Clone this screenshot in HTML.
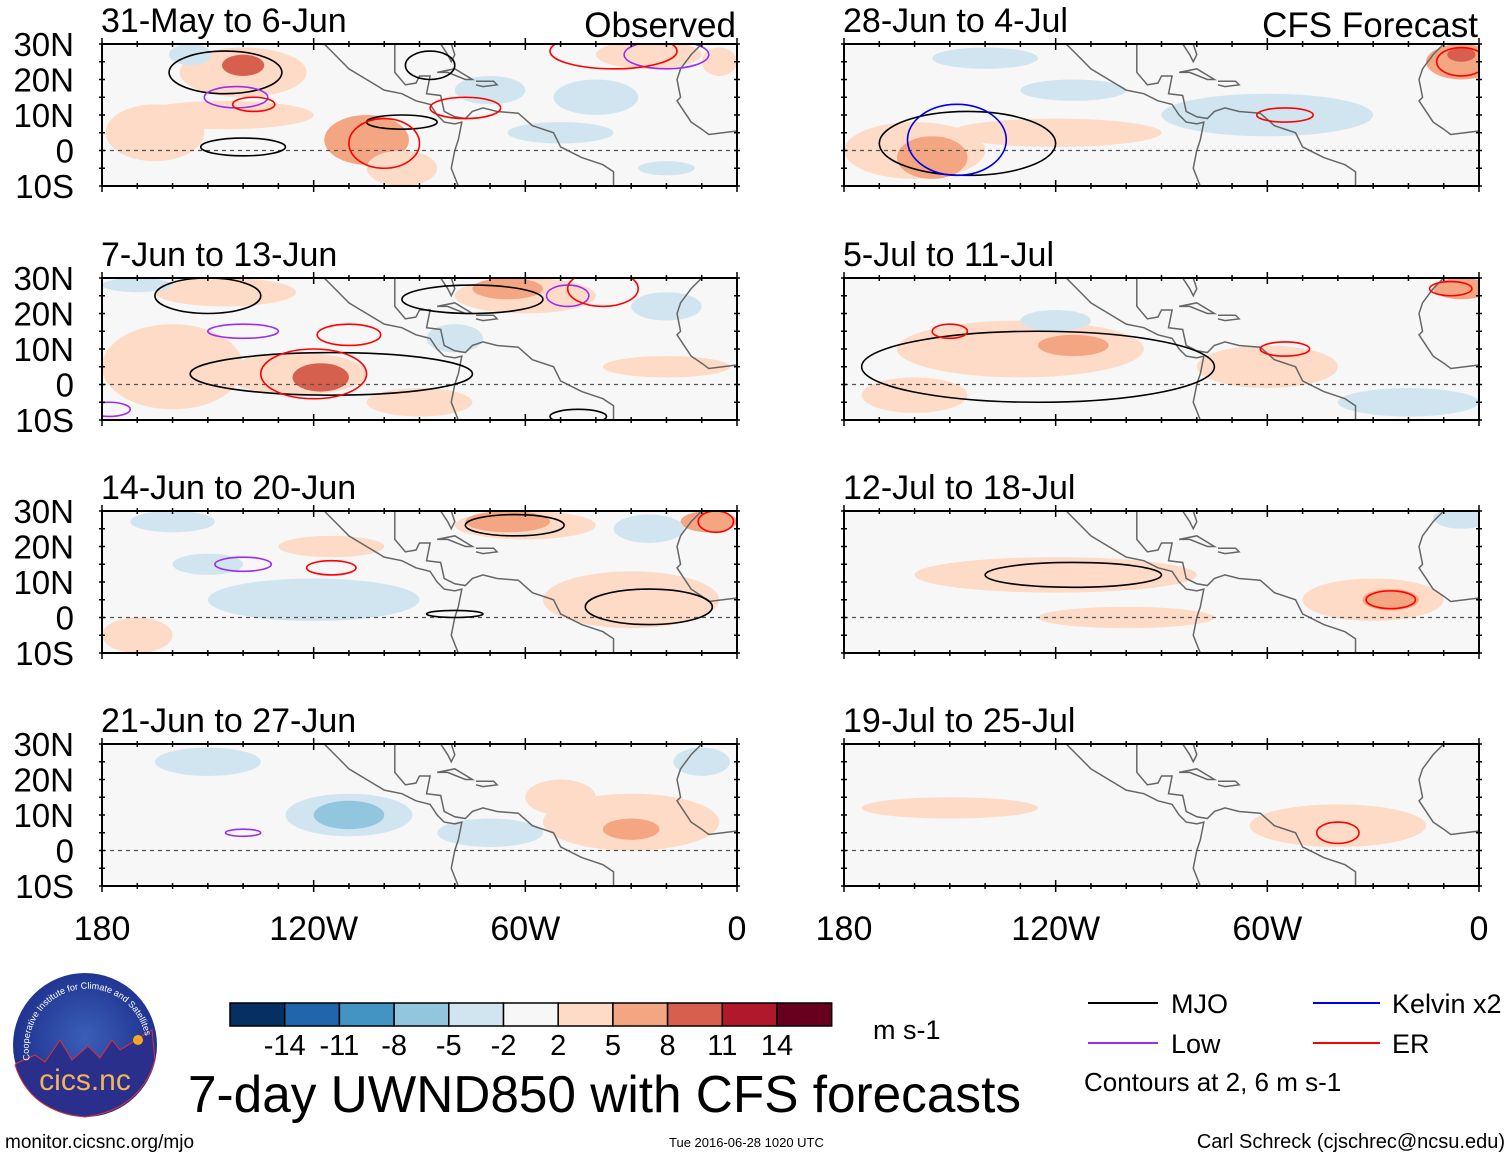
<!DOCTYPE html>
<html><head><meta charset="utf-8">
<style>
html,body{margin:0;padding:0;background:#fff;}
svg{display:block;font-family:"Liberation Sans",Arial,sans-serif;}
</style></head>
<body>
<svg id="fig" width="1510" height="1158" viewBox="0 0 1510 1158" xmlns="http://www.w3.org/2000/svg">
<defs>
<radialGradient id="lg" cx="50%" cy="45%" r="55%">
<stop offset="0" stop-color="#3a5fb8"/><stop offset="1" stop-color="#1c2d8a"/>
</radialGradient>
<path id="arc" d="M30,1060 A58,58 0 0 1 145,1035"/>
</defs>
<g id="panels"></g>
<g id="colorbar"></g>
<text x="873" y="1039" font-size="27">m s-1</text>
<text x="188" y="1112" font-size="52" textLength="833" lengthAdjust="spacingAndGlyphs">7-day UWND850 with CFS forecasts</text>
<g>
<circle cx="85" cy="1045" r="72" fill="url(#lg)"/>
<path d="M17,1063 L35,1055 L45,1062 L60,1040 L72,1060 L88,1046 L100,1058 L112,1040 L120,1050 L152,1030 L155,1060 Q140,1110 85,1117 Q30,1112 15,1065 Z" fill="#2a2f8c" stroke="#e03030" stroke-width="1"/>
<circle cx="138" cy="1040" r="5" fill="#f6a821"/>
<text x="85" y="1090" font-size="30" text-anchor="middle" fill="#f2b35a">cics.nc</text>
<text font-size="9" fill="#fff"><textPath href="#arc">Cooperative Institute for Climate and Satellites</textPath></text>
</g>
<text x="5" y="1148" font-size="19">monitor.cicsnc.org/mjo</text>
<text x="669" y="1147" font-size="13">Tue 2016-06-28 1020 UTC</text>
<text x="1505" y="1148" font-size="20" text-anchor="end">Carl Schreck (cjschrec@ncsu.edu)</text>
<g>
<line x1="1088" y1="1003" x2="1158" y2="1003" stroke="#000" stroke-width="2"/>
<text x="1171" y="1013" font-size="27">MJO</text>
<line x1="1313" y1="1003" x2="1380" y2="1003" stroke="#0000ee" stroke-width="2"/>
<text x="1392" y="1013" font-size="27">Kelvin x2</text>
<line x1="1088" y1="1043" x2="1158" y2="1043" stroke="#9a2ef0" stroke-width="2"/>
<text x="1171" y="1053" font-size="27">Low</text>
<line x1="1313" y1="1043" x2="1380" y2="1043" stroke="#ff0000" stroke-width="2"/>
<text x="1392" y="1053" font-size="27">ER</text>
<text x="1084" y="1091" font-size="26">Contours at 2, 6 m s-1</text>
</g>
</svg>
<script>
const levels=[-14,-11,-8,-5,-2,2,5,8,11,14];
const levelColors=["#053061","#2166ac","#4393c3","#92c5de","#d1e5f0","#f7f7f7","#fddbc7","#f4a582","#d6604d","#b2182b","#67001f"];
const panelTitles=["31-May to 6-Jun","7-Jun to 13-Jun","14-Jun to 20-Jun","21-Jun to 27-Jun","28-Jun to 4-Jul","5-Jul to 11-Jul","12-Jul to 18-Jul","19-Jul to 25-Jul"];
const latTicks=["30N","20N","10N","0","10S"];
const latValues=[30,20,10,0,-10];
const lonTicks=["180","120W","60W","0"];
const lonValues=[-180,-120,-60,0];
// anomaly blobs: [lon, lat, rxDeg, ryDeg, value m/s]
const blobs0=[[-140,22,18,7,4],[-145,10,25,4,3],[-165,5,14,8,4],[-105,3,12,7,6],[-95,-5,10,5,3],[-25,27,15,4,4],[-140,24,6,3,9],[-5,25,5,4,5],[-155,27,6,3,-3],[-70,17,10,4,-3],[-40,15,12,5,-3],[-50,5,15,3,-3],[-20,-5,8,2,-3]];
const blobs1=[[-60,25,20,5,4],[-160,5,20,12,4],[-125,3,20,6,5],[-145,26,20,4,3],[-90,-5,15,4,3],[-20,5,18,3,3],[-65,27,10,3,7],[-118,2,8,4,9],[-170,28,10,2,-3],[-80,13,8,4,-3],[-20,22,10,4,-3]];
const blobs2=[[-60,26,20,4,4],[-115,20,15,3,3],[-30,5,25,8,4],[-170,-5,10,5,3],[-65,27,12,3,7],[-8,27,8,3,6],[-160,27,12,3,-3],[-120,5,30,6,-3],[-150,15,10,3,-3],[-25,25,10,4,-3]];
const blobs3=[[-30,8,25,8,4],[-50,15,10,5,3],[-30,6,8,3,7],[-110,10,18,6,-4],[-110,10,10,4,-6],[-150,25,15,4,-3],[-10,25,8,4,-4],[-70,5,15,4,-3]];
const blobs4=[[-160,0,20,8,5],[-120,5,30,4,3],[-155,-2,10,6,8],[-5,25,10,5,6],[-5,27,4,2,10],[-115,17,15,3,-3],[-60,10,30,6,-3],[-140,26,15,3,-3]];
const blobs5=[[-130,10,35,8,3],[-60,5,20,6,3],[-115,11,10,3,6],[-160,-3,15,5,5],[-5,27,8,3,6],[-20,-5,20,4,-3],[-120,18,10,3,-3]];
const blobs6=[[-120,12,40,5,3],[-30,5,20,6,4],[-100,0,25,3,3],[-25,5,8,3,8],[-5,28,8,3,-3]];
const blobs7=[[-150,12,25,3,3],[-40,7,25,6,3],[-35,6,6,3,5]];
// contours: [lon, lat, rxDeg, ryDeg, type]
const contours0=[[-145,22,16,6,"m"],[-140,1,12,2.5,"m"],[-95,8,10,2,"m"],[-87,24,7,4,"m"],[-142,15,9,3,"l"],[-20,27,12,4,"l"],[-137,13,6,2,"e"],[-100,2,10,7,"e"],[-77,12,10,3,"e"],[-35,28,18,5,"e"]];
const contours1=[[-150,25,15,5,"m"],[-75,24,20,4,"m"],[-115,3,40,6,"m"],[-45,-9,8,2,"m"],[-140,15,10,2,"l"],[-48,25,6,3,"l"],[-178,-7,6,2,"l"],[-110,14,9,3,"e"],[-120,3,15,7,"e"],[-38,27,10,5,"e"]];
const contours2=[[-63,26,14,3,"m"],[-25,3,18,5,"m"],[-80,1,8,1,"m"],[-140,15,8,2,"l"],[-115,14,7,2,"e"],[-6,27,5,3,"e"]];
const contours3=[[-140,5,5,1,"l"]];
const contours4=[[-145,2,25,9,"m"],[-148,3,14,10,"k"],[-55,10,8,2,"e"],[-5,25,7,4,"e"]];
const contours5=[[-125,5,50,10,"m"],[-55,10,7,2,"e"],[-8,27,6,2,"e"],[-150,15,5,2,"e"]];
const contours6=[[-115,12,25,3.5,"m"],[-25,5,7,2.5,"e"]];
const contours7=[[-40,5,6,3,"e"]];
const allBlobs=[blobs0,blobs1,blobs2,blobs3,blobs4,blobs5,blobs6,blobs7];
const allContours=[contours0,contours1,contours2,contours3,contours4,contours5,contours6,contours7];
const contourColors={m:"#000",l:"#9a2ef0",k:"#0000ee",e:"#ff0000"};

const NS="http://www.w3.org/2000/svg";
const W=635,H=142;
const colX=[102,844], rowY=[44,278,511,744];
function mk(tag,attrs,parent){const e=document.createElementNS(NS,tag);for(const k in attrs)e.setAttribute(k,attrs[k]);parent.appendChild(e);return e;}
function colorFor(v){let i=0;while(i<levels.length&&v>levels[i])i++;return levelColors[i];}
const coast=[[-117,30],[-112,25],[-110,23],[-105,20],[-100,17],[-95,16],[-91,14],[-87,13],[-85,10],[-83,8],[-80,7.5],[-78,8],[-79,3],[-80,0],[-81,-5],[-79,-10]];
const coast2=[[-97,30],[-97,25],[-97,22],[-94,18.5],[-91,19],[-90,21],[-87,21],[-88,16],[-84,15.5],[-83,11],[-80,9.5],[-77,9],[-75,11],[-72,12],[-68,11],[-62,10.5],[-58,7],[-52,5],[-50,1],[-44,-2],[-38,-4],[-35,-6],[-35,-10]];
const florida=[[-84,30],[-82,27],[-81,25],[-80,27],[-81,30]];
const africa=[[-10,30],[-13,27],[-16,23],[-17,20],[-16,15],[-17,14],[-15,11],[-13,8],[-10,6],[-8,4.5],[-4,5],[0,5.5]];
const cuba=[[-85,22],[-80,23],[-75,20],[-77,20],[-82,22],[-85,22]];
const hisp=[[-74,19.5],[-69,19.5],[-68,18.5],[-72,18],[-74,18.5]];
const pg=document.getElementById('panels');
for(let p=0;p<8;p++){
  const x0=colX[Math.floor(p/4)], y0=rowY[p%4];
  const lx=lon=>x0+(lon+180)/180*W;
  const ly=lat=>y0+(30-lat)/40*H;
  const g=mk('g',{},pg);
  
  
  const cp=mk('clipPath',{id:'c'+p},g);
  mk('rect',{x:x0,y:y0,width:W,height:H},cp);
  const inner=mk('g',{'clip-path':'url(#c'+p+')'},g);
  mk('rect',{x:x0,y:y0,width:W,height:H,fill:'#f7f7f7'},inner);
  allBlobs[p].forEach(b=>{
    const e=mk('ellipse',{cx:lx(b[0]),cy:ly(b[1]),rx:b[2]/180*W,ry:b[3]/40*H,fill:colorFor(b[4])},inner);
    
    
  });
  [coast,coast2,florida,africa,cuba,hisp].forEach(c=>{
    mk('polyline',{points:c.map(q=>lx(q[0])+','+ly(q[1])).join(' '),fill:'none',stroke:'#666','stroke-width':1.5},inner);
  });
  mk('line',{x1:x0,x2:x0+W,y1:ly(0),y2:ly(0),stroke:'#555','stroke-width':1.2,'stroke-dasharray':'4,4'},inner);
  allContours[p].forEach(c=>{
    const e=mk('ellipse',{cx:lx(c[0]),cy:ly(c[1]),rx:c[2]/180*W,ry:c[3]/40*H,fill:'none',stroke:contourColors[c[4]],'stroke-width':1.6},inner);
    
    
  });
  mk('rect',{x:x0,y:y0,width:W,height:H,fill:'none',stroke:'#000','stroke-width':2},g);
  for(let lon=-180;lon<=0;lon+=10){
    const len=(lon%60===0)?6:3;
    mk('line',{x1:lx(lon),x2:lx(lon),y1:y0-len,y2:y0+len,stroke:'#000','stroke-width':1.5},g);
    mk('line',{x1:lx(lon),x2:lx(lon),y1:y0+H-len,y2:y0+H+len,stroke:'#000','stroke-width':1.5},g);
  }
  for(let lat=-10;lat<=30;lat+=5){
    mk('line',{x1:x0-3,x2:x0+3,y1:ly(lat),y2:ly(lat),stroke:'#000','stroke-width':1.5},g);
    mk('line',{x1:x0+W-3,x2:x0+W+3,y1:ly(lat),y2:ly(lat),stroke:'#000','stroke-width':1.5},g);
  }
  const t=mk('text',{x:x0-1,y:y0-12,'font-size':34},g);
  t.textContent=panelTitles[p];
  
  
  if(p===0||p===4){
    const s=mk('text',{x:x0+W-1,y:y0-7,'font-size':35,'text-anchor':'end'},g);
    s.textContent=p===0?'Observed':'CFS Forecast';
    
    
  }
  if(p<4){
    latValues.forEach((v,i)=>{
      const tt=mk('text',{x:74,y:ly(v)+12,'font-size':33,'text-anchor':'end'},g);
      tt.textContent=latTicks[i];
      
      
    });
  }
  if(p%4===3){
    lonValues.forEach((v,i)=>{
      const tt=mk('text',{x:lx(v),y:940,'font-size':34,'text-anchor':'middle'},g);
      tt.textContent=lonTicks[i];
      
      
    });
  }
}
const cb=document.getElementById('colorbar');
const cbx=230,cby=1003,cbw=54.7,cbh=23;
levelColors.forEach((c,i)=>{
  const r=mk('rect',{x:cbx+i*cbw,y:cby,width:cbw,height:cbh,fill:c,stroke:'#000','stroke-width':1.5},cb);
  
  
});
levels.forEach((v,i)=>{
  const t=mk('text',{x:cbx+(i+1)*cbw,y:1055,'font-size':29,'text-anchor':'middle'},cb);
  t.textContent=v;
  
  
});
</script>
</body></html>
